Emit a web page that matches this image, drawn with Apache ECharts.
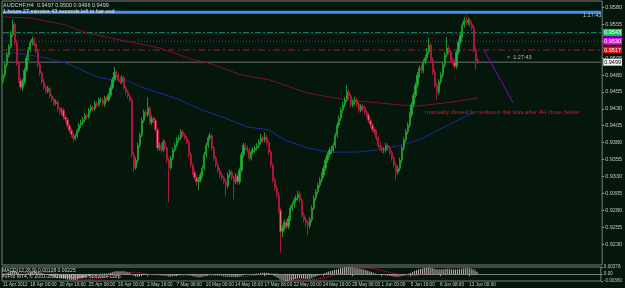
<!DOCTYPE html>
<html><head><meta charset="utf-8">
<script src="https://cdn.jsdelivr.net/npm/echarts@6/dist/echarts.min.js"></script>
<style>html,body{margin:0;padding:0;background:#05160b;overflow:hidden}#c{width:625px;height:288px}</style>
</head><body><div id="c"></div>
<script>
// ---- data (AUDCHF, H4) ----
const firstOpen = 0.9470;
const closes = [
0.9480,0.9495,0.9510,0.9522,0.9540,0.9555,0.9528,0.9497,0.9472,0.9462,
0.9470,0.9487,0.9505,0.9518,0.9528,0.9533,0.9525,0.9515,0.9495,0.9483,
0.9470,0.9462,0.9456,0.9460,0.9449,0.9444,0.9438,0.9440,0.9430,0.9425,
0.9428,0.9418,0.9414,0.9405,0.9398,0.9392,0.9386,0.9390,0.9398,0.9406,
0.9410,0.9414,0.9420,0.9418,0.9428,0.9432,0.9430,0.9438,0.9436,0.9443,
0.9443,0.9437,0.9446,0.9443,0.9450,0.9461,0.9473,0.9484,0.9480,0.9473,
0.9470,0.9476,0.9461,0.9455,0.9449,0.9443,0.9362,0.9343,0.9354,0.9376,
0.9391,0.9413,0.9425,0.9421,0.9431,0.9410,0.9416,0.9413,0.9399,0.9372,
0.9376,0.9369,0.9381,0.9372,0.9354,0.9343,0.9357,0.9369,0.9376,0.9384,
0.9387,0.9396,0.9391,0.9387,0.9381,0.9362,0.9347,0.9336,0.9328,0.9322,
0.9325,0.9332,0.9342,0.9362,0.9376,0.9387,0.9390,0.9372,0.9357,0.9347,
0.9339,0.9332,0.9328,0.9322,0.9316,0.9332,0.9336,0.9328,0.9322,0.9331,
0.9322,0.9339,0.9362,0.9376,0.9372,0.9369,0.9357,0.9366,0.9369,0.9372,
0.9375,0.9381,0.9387,0.9384,0.9388,0.9380,0.9366,0.9347,0.9325,0.9313,
0.9302,0.9280,0.9248,0.9254,0.9262,0.9256,0.9268,0.9283,0.9288,0.9295,
0.9298,0.9304,0.9295,0.9273,0.9266,0.9262,0.9257,0.9266,0.9283,0.9298,
0.9307,0.9317,0.9325,0.9332,0.9342,0.9354,0.9362,0.9369,0.9369,0.9376,
0.9391,0.9406,0.9416,0.9428,0.9436,0.9443,0.9455,0.9449,0.9436,0.9440,
0.9443,0.9437,0.9428,0.9434,0.9431,0.9425,0.9421,0.9413,0.9406,0.9399,
0.9396,0.9387,0.9376,0.9372,0.9369,0.9369,0.9376,0.9372,0.9365,0.9357,
0.9347,0.9336,0.9342,0.9354,0.9372,0.9384,0.9396,0.9406,0.9421,0.9436,
0.9450,0.9465,0.9480,0.9490,0.9487,0.9499,0.9505,0.9514,0.9524,0.9502,
0.9484,0.9465,0.9455,0.9470,0.9480,0.9495,0.9510,0.9520,0.9514,0.9502,
0.9499,0.9493,0.9514,0.9529,0.9539,0.9554,0.9561,0.9558,0.9561,0.9555,
0.9550,0.9517,0.9502,0.9499];
const highs = [
0.9484,0.9499,0.9514,0.9526,0.9545,0.9562,0.9558,0.9532,0.9500,0.9476,
0.9474,0.9491,0.9509,0.9522,0.9531,0.9537,0.9536,0.9528,0.9518,0.9498,
0.9486,0.9474,0.9466,0.9464,0.9463,0.9452,0.9447,0.9444,0.9443,0.9433,
0.9432,0.9431,0.9421,0.9417,0.9408,0.9401,0.9395,0.9393,0.9401,0.9409,
0.9414,0.9418,0.9424,0.9423,0.9431,0.9436,0.9435,0.9442,0.9441,0.9447,
0.9447,0.9446,0.9449,0.9449,0.9454,0.9465,0.9477,0.9492,0.9487,0.9483,
0.9477,0.9480,0.9479,0.9464,0.9458,0.9452,0.9446,0.9366,0.9358,0.9380,
0.9395,0.9417,0.9429,0.9428,0.9447,0.9434,0.9420,0.9419,0.9416,0.9402,
0.9380,0.9380,0.9385,0.9384,0.9375,0.9358,0.9360,0.9373,0.9380,0.9388,
0.9391,0.9400,0.9399,0.9394,0.9390,0.9384,0.9365,0.9350,0.9340,0.9332,
0.9329,0.9336,0.9346,0.9366,0.9380,0.9391,0.9395,0.9393,0.9375,0.9360,
0.9350,0.9343,0.9336,0.9331,0.9326,0.9336,0.9340,0.9339,0.9331,0.9335,
0.9334,0.9343,0.9366,0.9380,0.9380,0.9376,0.9372,0.9370,0.9373,0.9376,
0.9379,0.9385,0.9393,0.9390,0.9395,0.9392,0.9383,0.9369,0.9350,0.9328,
0.9317,0.9306,0.9284,0.9258,0.9266,0.9266,0.9272,0.9287,0.9292,0.9299,
0.9302,0.9309,0.9308,0.9298,0.9277,0.9270,0.9266,0.9270,0.9287,0.9302,
0.9311,0.9321,0.9329,0.9336,0.9346,0.9358,0.9366,0.9373,0.9375,0.9380,
0.9395,0.9410,0.9420,0.9432,0.9440,0.9447,0.9465,0.9459,0.9452,0.9444,
0.9448,0.9447,0.9440,0.9437,0.9438,0.9434,0.9428,0.9424,0.9416,0.9409,
0.9403,0.9399,0.9390,0.9380,0.9375,0.9373,0.9380,0.9379,0.9375,0.9368,
0.9360,0.9350,0.9346,0.9358,0.9376,0.9388,0.9400,0.9410,0.9425,0.9440,
0.9454,0.9469,0.9484,0.9494,0.9495,0.9503,0.9510,0.9520,0.9535,0.9528,
0.9506,0.9488,0.9469,0.9474,0.9484,0.9499,0.9514,0.9536,0.9524,0.9517,
0.9506,0.9503,0.9518,0.9533,0.9543,0.9558,0.9566,0.9569,0.9565,0.9564,
0.9559,0.9554,0.9521,0.9505];
const lows = [
0.9466,0.9476,0.9491,0.9506,0.9519,0.9536,0.9524,0.9494,0.9468,0.9458,
0.9457,0.9466,0.9484,0.9501,0.9514,0.9524,0.9522,0.9512,0.9491,0.9479,
0.9467,0.9458,0.9452,0.9453,0.9445,0.9440,0.9434,0.9435,0.9426,0.9421,
0.9421,0.9414,0.9410,0.9401,0.9394,0.9388,0.9381,0.9383,0.9387,0.9395,
0.9402,0.9406,0.9410,0.9414,0.9415,0.9424,0.9426,0.9427,0.9432,0.9433,
0.9439,0.9434,0.9433,0.9440,0.9440,0.9447,0.9458,0.9470,0.9476,0.9470,
0.9466,0.9467,0.9458,0.9451,0.9445,0.9440,0.9358,0.9336,0.9340,0.9350,
0.9372,0.9388,0.9409,0.9417,0.9418,0.9407,0.9406,0.9409,0.9395,0.9368,
0.9368,0.9365,0.9366,0.9369,0.9350,0.9292,0.9340,0.9354,0.9366,0.9373,
0.9380,0.9384,0.9388,0.9384,0.9378,0.9358,0.9343,0.9332,0.9324,0.9316,
0.9310,0.9321,0.9329,0.9339,0.9358,0.9372,0.9383,0.9368,0.9353,0.9343,
0.9335,0.9328,0.9324,0.9318,0.9300,0.9312,0.9328,0.9324,0.9296,0.9318,
0.9318,0.9318,0.9336,0.9358,0.9368,0.9365,0.9353,0.9354,0.9362,0.9365,
0.9368,0.9371,0.9377,0.9380,0.9380,0.9376,0.9362,0.9343,0.9321,0.9309,
0.9298,0.9276,0.9217,0.9240,0.9250,0.9252,0.9252,0.9264,0.9279,0.9284,
0.9291,0.9294,0.9291,0.9269,0.9262,0.9255,0.9243,0.9253,0.9262,0.9280,
0.9294,0.9303,0.9313,0.9321,0.9328,0.9338,0.9350,0.9358,0.9363,0.9365,
0.9372,0.9387,0.9402,0.9412,0.9424,0.9432,0.9440,0.9445,0.9432,0.9432,
0.9436,0.9433,0.9424,0.9425,0.9427,0.9421,0.9417,0.9409,0.9402,0.9395,
0.9392,0.9383,0.9372,0.9368,0.9365,0.9364,0.9365,0.9368,0.9361,0.9353,
0.9343,0.9325,0.9332,0.9338,0.9350,0.9368,0.9380,0.9392,0.9402,0.9417,
0.9432,0.9446,0.9461,0.9476,0.9482,0.9483,0.9495,0.9501,0.9510,0.9498,
0.9480,0.9461,0.9443,0.9451,0.9466,0.9476,0.9491,0.9506,0.9510,0.9498,
0.9495,0.9489,0.9489,0.9510,0.9525,0.9535,0.9550,0.9554,0.9554,0.9551,
0.9546,0.9513,0.9488,0.9496];

// moving averages (read at sample bars)
const maSlowBars = [0,15,32,43,63,80,98,105,122,136,156,176,191,202,212,227,243];
const maSlowVals = [0.9566,0.9564,0.9554,0.9542,0.9530,0.9520,0.9502,0.9498,0.9480,0.9473,0.9453,0.9443,0.9439,0.9436,0.9434,0.9439,0.9446];
const maFastBars = [0,5,19,32,49,54,64,71,88,102,114,125,136,144,156,166,181,191,202,213,227,241];
const maFastVals = [0.9510,0.9513,0.9507,0.9498,0.9476,0.9474,0.9471,0.9462,0.9446,0.9428,0.9416,0.9403,0.9399,0.9384,0.9372,0.9366,0.9366,0.9369,0.9375,0.9384,0.9405,0.9425];

// MACD(12,26,9)
const macdMain = [
0.0002,0.0004,0.0007,0.0010,0.0014,0.0019,0.0018,0.0013,0.0006,0.0000,
-0.0002,0.0000,0.0004,0.0008,0.0012,0.0015,0.0016,0.0016,0.0013,0.0010,
0.0006,0.0002,-0.0002,-0.0004,-0.0008,-0.0011,-0.0014,-0.0016,-0.0019,-0.0021,
-0.0022,-0.0024,-0.0026,-0.0028,-0.0030,-0.0031,-0.0032,-0.0031,-0.0029,-0.0026,
-0.0023,-0.0020,-0.0017,-0.0015,-0.0011,-0.0008,-0.0006,-0.0003,-0.0001,0.0001,
0.0002,0.0002,0.0003,0.0004,0.0005,0.0007,0.0010,0.0013,0.0015,0.0016,
0.0016,0.0016,0.0015,0.0013,0.0011,0.0009,0.0000,-0.0008,-0.0012,-0.0013,
-0.0012,-0.0009,-0.0005,-0.0003,0.0000,0.0000,0.0001,0.0001,0.0000,-0.0003,
-0.0005,-0.0007,-0.0007,-0.0008,-0.0010,-0.0012,-0.0012,-0.0011,-0.0009,-0.0007,
-0.0005,-0.0003,-0.0002,-0.0001,-0.0001,-0.0003,-0.0006,-0.0009,-0.0012,-0.0014,
-0.0016,-0.0016,-0.0015,-0.0012,-0.0008,-0.0004,-0.0001,0.0000,-0.0002,-0.0004,
-0.0006,-0.0008,-0.0010,-0.0012,-0.0014,-0.0014,-0.0014,-0.0015,-0.0016,-0.0015,
-0.0016,-0.0014,-0.0010,-0.0006,-0.0003,-0.0001,-0.0001,0.0000,0.0001,0.0002,
0.0003,0.0004,0.0006,0.0007,0.0008,0.0008,0.0006,0.0002,-0.0004,-0.0009,
-0.0014,-0.0020,-0.0028,-0.0032,-0.0034,-0.0036,-0.0036,-0.0034,-0.0032,-0.0029,
-0.0026,-0.0023,-0.0022,-0.0023,-0.0024,-0.0025,-0.0026,-0.0025,-0.0022,-0.0018,
-0.0014,-0.0010,-0.0006,-0.0002,0.0002,0.0006,0.0010,0.0014,0.0017,0.0020,
0.0022,0.0025,0.0028,0.0031,0.0033,0.0035,0.0037,0.0037,0.0036,0.0035,
0.0034,0.0032,0.0030,0.0028,0.0026,0.0024,0.0021,0.0018,0.0015,0.0011,
0.0008,0.0004,0.0001,-0.0001,-0.0003,-0.0005,-0.0006,-0.0007,-0.0008,-0.0010,
-0.0012,-0.0014,-0.0014,-0.0013,-0.0011,-0.0008,-0.0005,-0.0001,0.0003,0.0008,
0.0012,0.0017,0.0021,0.0025,0.0027,0.0030,0.0032,0.0034,0.0035,0.0034,
0.0032,0.0029,0.0026,0.0025,0.0024,0.0025,0.0026,0.0027,0.0027,0.0026,
0.0025,0.0023,0.0024,0.0025,0.0027,0.0029,0.0031,0.0033,0.0033,0.0032,
0.0030,0.0024,0.0018,0.0013];
const signalBars = [0,4,8,12,16,20,24,28,32,36,40,44,48,52,56,60,64,68,72,76,80,84,88,92,96,100,104,108,112,116,120,124,128,132,136,140,144,148,152,156,160,164,168,172,176,180,184,188,192,196,200,204,208,212,216,220,224,228,232,236,240,243];
const signalVals = [0.0000,0.0004,0.0010,0.0010,0.0009,0.0012,0.0009,0.0002,-0.0008,-0.0018,-0.0025,-0.0028,-0.0024,-0.0016,-0.0008,0.0000,0.0008,0.0011,0.0005,-0.0003,-0.0004,-0.0003,-0.0007,-0.0009,-0.0007,-0.0004,-0.0008,-0.0009,-0.0006,-0.0008,-0.0012,-0.0013,-0.0008,-0.0002,0.0004,0.0004,-0.0006,-0.0020,-0.0029,-0.0030,-0.0027,-0.0021,-0.0010,0.0002,0.0016,0.0027,0.0033,0.0032,0.0025,0.0015,0.0004,-0.0005,-0.0010,-0.0007,0.0003,0.0015,0.0024,0.0028,0.0027,0.0026,0.0027,0.00225];

// levels and annotations
const blueLevel = 0.9573, greenLevel = 0.9543, purpleLevel = 0.9541, magentaLevel = 0.9530, redLevel = 0.9517, bidLevel = 0.9499;
const trendBars = [246, 261];
const trendVals = [0.9517, 0.9439];

// axes
const priceTicks = [0.9580,0.9555,0.9530,0.9505,0.9480,0.9455,0.9430,0.9405,0.9380,0.9355,0.9330,0.9305,0.9280,0.9255,0.9230];
const macdTicks = [0.00378, 0, -0.0036];
const xLabels = ['11 Apr 2012','18 Apr 00:00','20 Apr 16:00','25 Apr 08:00','30 Apr 00:00','2 May 16:00','7 May 08:00','10 May 00:00','14 May 16:00','17 May 08:00','22 May 00:00','24 May 16:00','29 May 08:00','1 Jun 00:00','5 Jun 16:00','8 Jun 08:00','13 Jun 00:00'];
const xLabelBars = [0,14,29,44,59,74,89,104,119,134,149,164,179,194,209,224,239];
const slotCount = 307;

// ---- build ----
const FONT = 'Liberation Sans';
const NARROW = "'Liberation Sans Narrow', 'Liberation Sans'";
const cats = new Array(slotCount).fill('');
xLabelBars.forEach((b, k) => cats[b] = xLabels[k]);
const candleData = closes.map((c, i) => [i === 0 ? firstOpen : closes[i - 1], c, lows[i], highs[i]]);
function sparse(bars, vals) { const a = new Array(slotCount).fill(null); bars.forEach((b, k) => a[b] = vals[k]); return a; }

function levelSeries(v, lineStyle, bg, fg) {
  return {
    type: 'line', xAxisIndex: 0, yAxisIndex: 0, silent: true, z: 2,
    data: [[0, v], [slotCount - 1, v]], symbol: 'none', showSymbol: false,
    lineStyle: lineStyle,
    endLabel: bg ? { show: true, distance: 2, formatter: () => v.toFixed(4), backgroundColor: bg, color: fg,
      fontSize: 5.5, fontFamily: NARROW, padding: [1, 1, 0, 1] } : { show: false }
  };
}

const chart = echarts.init(document.getElementById('c'), null, { renderer: 'canvas' });
chart.setOption({
  animation: false,
  backgroundColor: '#05160b',
  grid: [
    { left: 2, right: 18, top: 1, height: 264, show: true, borderColor: '#7c7c7c', borderWidth: 1, backgroundColor: 'transparent' },
    { left: 2, right: 18, top: 267, height: 14, show: true, borderColor: '#7c7c7c', borderWidth: 1 }
  ],
  xAxis: [
    { type: 'category', gridIndex: 0, data: cats, boundaryGap: true, axisLine: { show: false }, axisTick: { show: false }, axisLabel: { show: false }, splitLine: { show: false } },
    { type: 'category', gridIndex: 1, data: cats, boundaryGap: true,
      axisLine: { lineStyle: { color: '#7c7c7c' } },
      axisTick: { show: true, alignWithLabel: true, length: 2, interval: (i, v) => v !== '', lineStyle: { color: '#9a9a9a' } },
      axisLabel: { show: true, interval: (i, v) => v !== '', align: 'left', margin: 1, color: '#c8c8c8', fontSize: 4.6, fontFamily: NARROW } }
  ],
  yAxis: [
    { type: 'value', gridIndex: 0, position: 'right', min: 0.919894, max: 0.958947, scale: true,
      splitLine: { show: false }, axisLine: { show: false },
      axisTick: { show: true, length: 2, customValues: priceTicks, lineStyle: { color: '#9a9a9a' } },
      axisLabel: { customValues: priceTicks, formatter: v => v.toFixed(4), color: '#c8c8c8', fontSize: 5.5, fontFamily: NARROW, margin: 3 } },
    { type: 'value', gridIndex: 1, position: 'right', min: -0.0036, max: 0.00378,
      splitLine: { show: false }, axisLine: { show: false },
      axisTick: { show: true, length: 2, customValues: macdTicks, lineStyle: { color: '#9a9a9a' } },
      axisLabel: { customValues: macdTicks, formatter: v => v === 0 ? '0.00' : v.toFixed(5), color: '#c8c8c8', fontSize: 4.6, fontFamily: NARROW, margin: 3 } }
  ],
  series: [
    levelSeries(blueLevel, { color: '#3d93ec', width: 3, type: 'solid' }, null, null),
    levelSeries(bidLevel, { color: '#707070', width: 1, type: 'solid' }, '#f4f4f4', '#000'),
    levelSeries(redLevel, { color: '#b01038', width: 1, type: [7, 3, 2, 3] }, '#e01010', '#fff'),
    levelSeries(magentaLevel, { color: '#9a18b8', width: 1, type: [1, 2] }, '#e010e0', '#fff'),
    levelSeries(purpleLevel, { color: '#7400a8', width: 1, type: [2, 1] }, '#7000a8', '#fff'),
    levelSeries(greenLevel, { color: '#138a4a', width: 1, type: [6, 2, 2, 2] }, '#10c860', '#fff'),
    { type: 'line', name: 'MA slow', xAxisIndex: 0, yAxisIndex: 0, data: sparse(maSlowBars, maSlowVals), connectNulls: true, showSymbol: false, symbol: 'none', lineStyle: { color: '#7e1034', width: 1 }, z: 3 },
    { type: 'line', name: 'MA fast', xAxisIndex: 0, yAxisIndex: 0, data: sparse(maFastBars, maFastVals), connectNulls: true, showSymbol: false, symbol: 'none', lineStyle: { color: '#1d2a9c', width: 1 }, z: 3 },
    { type: 'candlestick', name: 'AUDCHF', xAxisIndex: 0, yAxisIndex: 0, data: candleData, barWidth: 1.7, z: 4,
      itemStyle: { color: '#22b44a', color0: '#f27070', borderColor: '#1c962c', borderColor0: '#a8173c', borderWidth: 1 } },
    { type: 'line', name: 'trend', xAxisIndex: 0, yAxisIndex: 0, data: trendBars.map((b, k) => [b, trendVals[k]]), symbol: 'rect', symbolSize: 3, showSymbol: true, itemStyle: { color: '#ff40ff' }, lineStyle: { color: '#8a00c8', width: 1 }, z: 5 },
    { type: 'bar', name: 'MACD', xAxisIndex: 1, yAxisIndex: 1, data: macdMain, barWidth: 1, itemStyle: { color: '#bcbcbc' }, z: 2 },
    { type: 'line', name: 'Signal', xAxisIndex: 1, yAxisIndex: 1, data: sparse(signalBars, signalVals), connectNulls: true, showSymbol: false, symbol: 'none', lineStyle: { color: '#e0203a', width: 1, type: [1, 1] }, z: 3 }
  ],
  graphic: [
    { type: 'text', x: 3, y: 5, z: 10, style: { text: 'AUDCHF,H4  0.9497 0.9500 0.9496 0.9499', fill: '#d4d4d4', fontSize: 5.5, fontFamily: NARROW, verticalAlign: 'middle' } },
    { type: 'text', x: 3, y: 11.5, z: 10, style: { text: '1 hours 27 minutes 43 seconds left to bar end', fill: '#e8e8e8', fontSize: 5.5, fontFamily: NARROW, verticalAlign: 'middle' } },
    { type: 'text', x: 583, y: 15, z: 10, style: { text: '1:27:43', fill: '#c8c8c8', fontSize: 5.5, fontFamily: FONT, verticalAlign: 'middle' } },
    { type: 'text', x: 507, y: 57, z: 10, style: { text: '<  1:27:43', fill: '#bdbdbd', fontSize: 5.5, fontFamily: FONT, verticalAlign: 'middle' } },
    { type: 'text', x: 425, y: 112, z: 10, style: { text: 'manually closed for reduced risk loss after 4H close below', fill: '#d01840', fontSize: 6, fontFamily: FONT, verticalAlign: 'middle' } },
    { type: 'text', x: 2, y: 271, z: 10, style: { text: 'MACD(12,26,9) 0.00128 0.00225', fill: '#d0d0d0', fontSize: 5, fontFamily: FONT, verticalAlign: 'middle' } },
    { type: 'text', x: 2, y: 276.5, z: 10, style: { text: 'FxPro MT4, \u00a9 2001-2012 MetaQuotes Software Corp.', fill: '#d0d0d0', fontSize: 5, fontFamily: FONT, verticalAlign: 'middle' } }
  ]
});
</script></body></html>
